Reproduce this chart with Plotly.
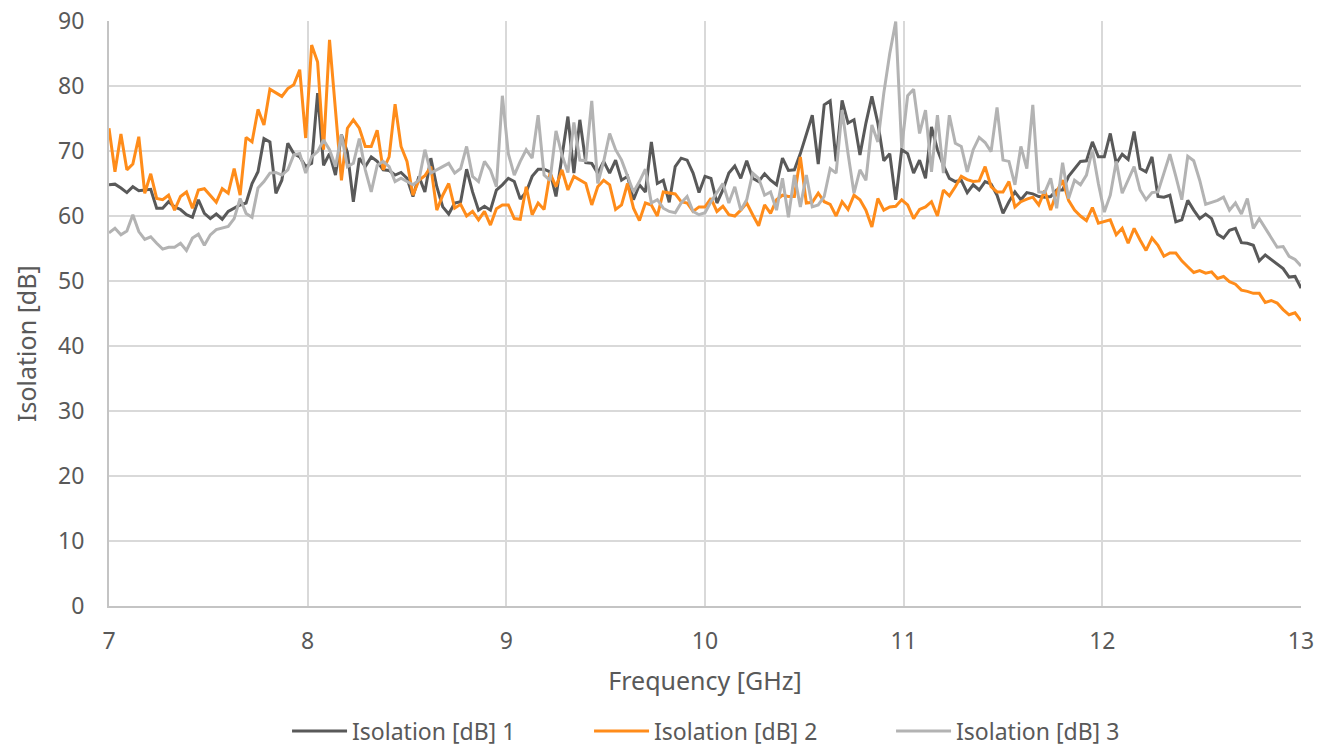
import plotly.graph_objects as go

# Frequency grid (GHz), 201 points 7.00 .. 13.00
freq_start = 7.0
freq_step = 0.03
n_points = 201
freq = [round(freq_start + freq_step * i, 2) for i in range(n_points)]

iso_1 = [
    64.8, 64.9, 64.3, 63.6, 64.5, 63.9, 64.0, 64.1, 61.2, 61.2,
    62.2, 61.4, 61.0, 60.2, 59.8, 62.5, 60.4, 59.6, 60.3, 59.5,
    60.7, 61.2, 61.7, 62.0, 65.0, 66.8, 71.9, 71.4, 63.5, 65.5,
    71.2, 69.6, 69.1, 67.6, 68.1, 78.9, 67.8, 69.6, 66.3, 72.5,
    69.8, 62.2, 68.9, 67.6, 69.1, 68.4, 67.1, 67.0, 66.3, 66.7,
    65.8, 63.0, 66.1, 63.7, 68.9, 64.5, 61.4, 60.3, 62.0, 62.2,
    67.2, 63.7, 60.9, 61.5, 60.9, 64.0, 64.8, 65.8, 65.3, 62.6,
    63.7, 66.1, 67.2, 67.2, 66.8, 63.0, 68.9, 75.3, 66.6, 74.8,
    68.2, 68.1, 66.6, 68.4, 66.6, 68.6, 65.5, 66.1, 62.5, 64.8,
    63.7, 71.4, 65.0, 65.5, 62.1, 67.6, 68.9, 68.6, 66.6, 63.6,
    66.1, 65.8, 62.0, 64.0, 66.6, 67.7, 65.8, 68.5, 65.8, 65.3,
    66.5, 65.5, 64.8, 68.9, 67.0, 67.1, 69.6, 72.7, 75.5, 68.0,
    77.1, 77.7, 68.4, 77.8, 74.3, 74.8, 69.4, 74.3, 78.4, 74.3,
    68.5, 69.6, 62.5, 70.2, 69.6, 66.6, 68.6, 65.8, 73.7, 70.2,
    67.8, 65.8, 65.3, 65.5, 63.6, 64.8, 64.0, 65.3, 64.9, 63.2,
    60.4, 62.2, 63.7, 62.5, 63.6, 63.4, 63.0, 62.9, 63.0, 64.0,
    64.0, 66.1, 67.3, 68.4, 68.5, 71.4, 69.1, 69.1, 72.7, 68.1,
    69.5, 68.7, 73.0, 67.3, 66.8, 69.1, 63.0, 62.9, 63.2, 59.1,
    59.4, 62.4, 60.9, 59.6, 60.3, 59.6, 57.2, 56.6, 57.8, 58.1,
    55.9, 55.8, 55.5, 53.1, 54.0, 53.3, 52.6, 51.9, 50.6, 50.7,
    48.9,
]

iso_2 = [
    73.5, 66.8, 72.6, 67.1, 68.0, 72.2, 63.5, 66.5, 62.7, 62.5,
    63.2, 60.9, 63.0, 63.7, 61.2, 64.0, 64.2, 63.1, 62.1, 64.2,
    63.5, 67.3, 63.2, 72.1, 71.4, 76.4, 74.0, 79.5, 79.0, 78.4,
    79.6, 80.2, 82.5, 72.0, 86.3, 83.7, 70.2, 87.1, 76.3, 65.5,
    73.5, 74.8, 73.5, 70.7, 70.7, 73.2, 67.1, 69.1, 77.2, 70.7,
    68.4, 63.2, 65.5, 66.2, 67.6, 60.9, 63.2, 65.0, 61.2, 61.8,
    60.0, 60.7, 59.4, 60.7, 58.6, 61.1, 61.7, 61.7, 59.6, 59.5,
    64.5, 60.2, 62.0, 61.0, 66.6, 64.5, 67.1, 64.0, 66.1, 65.5,
    65.0, 61.7, 64.5, 65.5, 64.8, 61.0, 61.7, 65.0, 61.2, 59.3,
    62.0, 61.7, 60.0, 63.7, 63.6, 63.4, 62.2, 62.0, 60.7, 61.4,
    61.4, 62.7, 60.7, 61.5, 60.2, 60.0, 60.9, 62.0, 60.2, 58.5,
    61.7, 60.4, 62.5, 63.2, 63.0, 63.0, 69.1, 62.0, 62.1, 63.5,
    62.2, 61.8, 60.0, 62.2, 61.0, 63.2, 62.5, 60.9, 58.3, 62.7,
    60.9, 61.4, 61.5, 62.5, 61.7, 59.6, 61.0, 61.4, 62.2, 60.0,
    64.0, 63.1, 64.5, 66.1, 65.6, 65.3, 65.4, 67.6, 64.5, 63.7,
    63.7, 65.3, 61.4, 62.2, 62.6, 62.9, 61.7, 63.9, 60.9, 63.7,
    65.5, 62.4, 60.9, 60.0, 59.3, 61.3, 58.9, 59.2, 59.4, 57.1,
    58.1, 55.8, 58.1, 56.3, 54.7, 56.6, 55.5, 53.8, 54.3, 54.3,
    53.1, 52.2, 51.3, 51.6, 51.2, 51.4, 50.4, 50.7, 49.9, 49.5,
    48.6, 48.4, 48.1, 48.1, 46.7, 47.0, 46.6, 45.6, 44.8, 45.1,
    43.9,
]

iso_3 = [
    57.4, 58.1, 57.1, 57.7, 60.2, 57.6, 56.4, 56.8, 55.8, 54.9,
    55.2, 55.2, 55.8, 54.7, 56.6, 57.2, 55.5, 57.1, 57.9, 58.1,
    58.4, 59.6, 62.7, 60.4, 59.8, 64.3, 65.3, 66.6, 66.7, 66.3,
    67.1, 69.4, 69.6, 66.6, 69.1, 69.9, 71.7, 70.2, 67.6, 72.5,
    67.6, 68.1, 71.9, 67.1, 63.7, 67.8, 68.4, 67.6, 65.3, 65.8,
    65.3, 64.8, 65.5, 70.2, 66.6, 67.1, 67.6, 68.1, 66.6, 67.3,
    70.7, 66.1, 65.3, 68.4, 67.1, 64.5, 78.5, 69.6, 66.3, 68.4,
    70.2, 68.9, 75.5, 66.3, 65.5, 73.1, 69.4, 66.7, 74.4, 68.6,
    68.5, 77.7, 65.0, 68.4, 72.7, 70.2, 68.6, 66.3, 63.7, 65.3,
    67.2, 62.0, 62.5, 61.2, 60.7, 60.5, 62.0, 63.0, 60.7, 60.2,
    60.5, 62.2, 63.7, 65.0, 62.0, 64.5, 60.9, 62.5, 66.6, 65.8,
    63.2, 63.7, 60.9, 65.8, 59.8, 66.3, 61.4, 66.3, 61.4, 61.7,
    63.0, 67.3, 66.6, 76.3, 69.6, 63.5, 67.1, 65.5, 74.0, 71.4,
    78.9, 85.0, 89.9, 70.5, 78.5, 79.5, 72.7, 76.3, 66.8, 75.5,
    66.6, 75.5, 71.2, 70.7, 66.8, 70.2, 72.1, 71.3, 69.9, 76.7,
    68.6, 68.4, 64.8, 70.7, 67.3, 77.1, 63.7, 63.6, 65.8, 61.2,
    68.2, 62.7, 65.5, 64.8, 66.3, 70.2, 65.0, 60.6, 63.2, 68.4,
    63.5, 65.5, 67.6, 64.0, 62.5, 63.6, 63.7, 66.6, 69.5, 66.1,
    62.5, 69.2, 68.5, 65.5, 61.8, 62.1, 62.4, 62.9, 60.9, 62.0,
    60.3, 62.7, 58.1, 59.6, 58.1, 56.6, 55.2, 55.3, 53.8, 53.3,
    52.3,
]

series_names = ["Isolation [dB] 1", "Isolation [dB] 2", "Isolation [dB] 3"]
series_values = [iso_1, iso_2, iso_3]
series_colors = ["#595959", "#ff8c1a", "#b3b3b3"]

x_ticks = [7, 8, 9, 10, 11, 12, 13]
y_ticks = [0, 10, 20, 30, 40, 50, 60, 70, 80, 90]

font_family = "Noto Sans, Roboto, sans-serif"
text_color = "#595959"
grid_color = "#d9d9d9"
axis_color = "#c4c4c4"

fig = go.Figure()
for name, vals, col in zip(series_names, series_values, series_colors):
    fig.add_trace(go.Scatter(
        x=freq, y=vals, mode="lines", name=name,
        line=dict(color=col, width=3),
    ))

fig.update_layout(
    width=1329, height=746,
    paper_bgcolor="white", plot_bgcolor="white",
    margin=dict(l=109, r=28, t=21, b=140, autoexpand=False),
    font=dict(family=font_family, color=text_color, size=23),
    showlegend=True,
    legend=dict(
        orientation="h", x=0.5294, xanchor="center", y=-0.2137, yanchor="middle",
        font=dict(size=23, color=text_color),
        entrywidth=232, entrywidthmode="pixels",
        itemwidth=55,
    ),
    annotations=[dict(
        text="Isolation [dB]", textangle=-90,
        xref="paper", yref="paper", x=-0.0696, y=0.448,
        xanchor="center", yanchor="middle", showarrow=False,
        font=dict(size=25, color=text_color),
    )],
)
fig.update_xaxes(
    range=[7, 13], tickvals=x_ticks, ticktext=[str(t) for t in x_ticks],
    showgrid=True, gridcolor=grid_color, gridwidth=2,
    zeroline=False, showline=True, linecolor=axis_color, linewidth=2,
    ticks="", ticklabelstandoff=13,
    tickfont=dict(size=23, color=text_color),
    title=dict(text="Frequency [GHz]", font=dict(size=25, color=text_color), standoff=18),
)
fig.update_yaxes(
    range=[0, 90], tickvals=y_ticks, ticktext=[str(t) for t in y_ticks],
    showgrid=True, gridcolor=grid_color, gridwidth=2,
    zeroline=False, showline=True, linecolor=axis_color, linewidth=2,
    ticks="", ticklabelstandoff=18,
    tickfont=dict(size=23, color=text_color),
)

fig.write_html("out.html", config={"displayModeBar": False},
               post_script="document.body.style.margin='0';")
